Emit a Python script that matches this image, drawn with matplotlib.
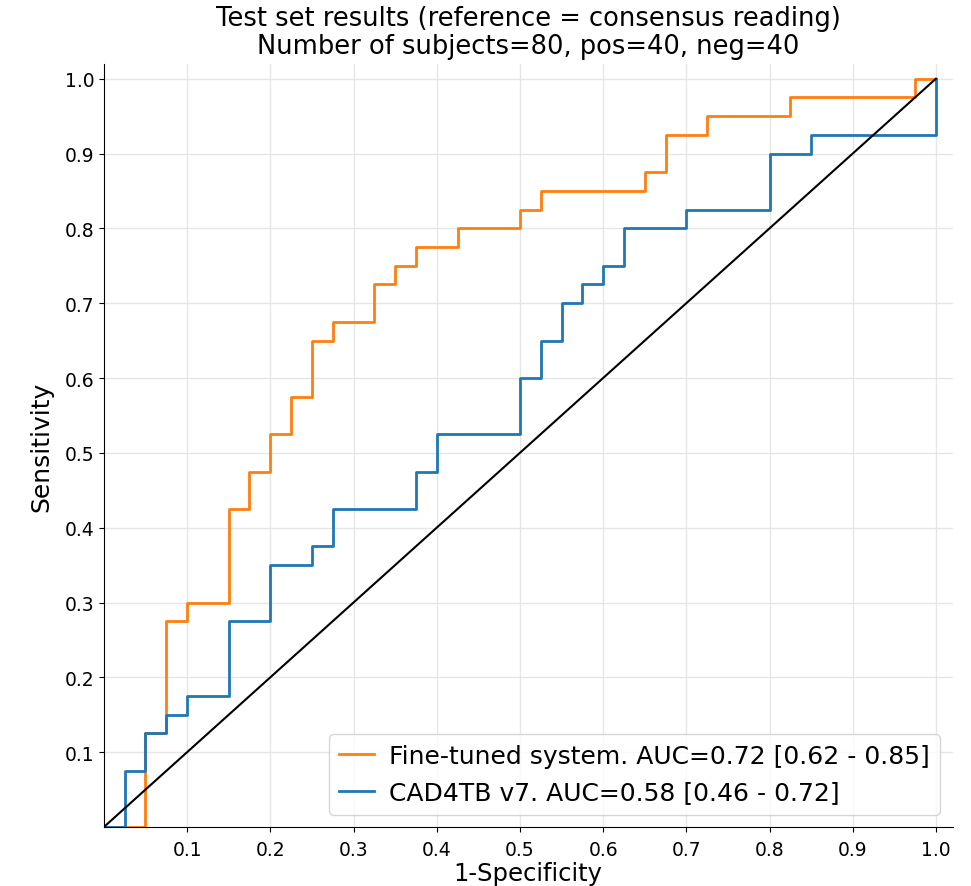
import numpy as np
import matplotlib
matplotlib.use('Agg')
import matplotlib.pyplot as plt

# ROC operating points (1-specificity, sensitivity), step curves
fpr_finetuned = [0.0, 0.05, 0.075, 0.1, 0.15, 0.175, 0.2, 0.225, 0.25, 0.275, 0.325,
                 0.35, 0.375, 0.425, 0.5, 0.525, 0.65, 0.675, 0.725, 0.825, 0.975, 1.0]
tpr_finetuned = [0.0, 0.125, 0.275, 0.3, 0.425, 0.475, 0.525, 0.575, 0.65, 0.675, 0.725,
                 0.75, 0.775, 0.8, 0.825, 0.85, 0.875, 0.925, 0.95, 0.975, 1.0, 1.0]

fpr_cad = [0.0, 0.025, 0.05, 0.075, 0.1, 0.15, 0.2, 0.25, 0.275, 0.375, 0.4,
           0.5, 0.525, 0.55, 0.575, 0.6, 0.625, 0.7, 0.8, 0.85, 1.0]
tpr_cad = [0.0, 0.075, 0.125, 0.15, 0.175, 0.275, 0.35, 0.375, 0.425, 0.475, 0.525,
           0.6, 0.65, 0.7, 0.725, 0.75, 0.8, 0.825, 0.9, 0.925, 1.0]

label_finetuned = 'Fine-tuned system. AUC=0.72 [0.62 - 0.85]'
label_cad = 'CAD4TB v7. AUC=0.58 [0.46 - 0.72]'
ticks = [0.1, 0.2, 0.3, 0.4, 0.5, 0.6, 0.7, 0.8, 0.9, 1.0]

fig = plt.figure(figsize=(9.71, 8.87), dpi=100)
ax = fig.add_axes([0.107, 0.0665, 0.874, 0.8605])

ax.plot(fpr_finetuned, tpr_finetuned, drawstyle='steps-post', color='tab:orange',
        lw=2, label=label_finetuned)
ax.plot(fpr_cad, tpr_cad, drawstyle='steps-post', color='tab:blue',
        lw=2, label=label_cad)
ax.plot([0, 1], [0, 1], color='black', lw=1.5)

ax.set_xlim(0, 1.02)
ax.set_ylim(0, 1.02)
ax.set_xticks(ticks)
ax.set_yticks(ticks)
ax.tick_params(labelsize=13.5)
ax.tick_params(axis='x', pad=6)
ax.grid(True, color='#e6e6e6', lw=1)
ax.set_axisbelow(True)
ax.spines['top'].set_visible(False)
ax.spines['right'].set_visible(False)

ax.set_xlabel('1-Specificity', fontsize=17.5, labelpad=1)
ax.set_ylabel('Sensitivity', fontsize=18, labelpad=8)
ax.set_title('Test set results (reference = consensus reading)\n'
             'Number of subjects=80, pos=40, neg=40', fontsize=18.5, pad=8,
             linespacing=1.1)
ax.legend(loc='lower right', fontsize=18, borderaxespad=0.5,
          handlelength=1.4, handletextpad=0.6)

fig.savefig('out.png', dpi=100)
